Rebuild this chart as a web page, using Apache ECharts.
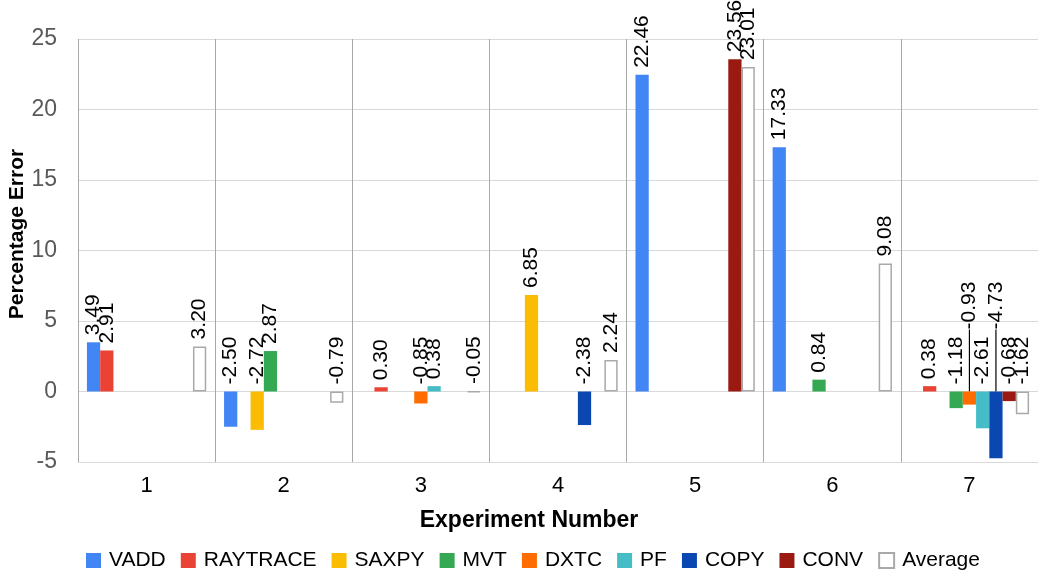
<!DOCTYPE html>
<html>
<head>
<meta charset="utf-8">
<script src="https://cdn.jsdelivr.net/npm/echarts@6/dist/echarts.min.js"></script>
<style>
html, body { margin: 0; padding: 0; background: #fff; }
#chart { width: 1038px; height: 578px; }
</style>
</head>
<body>
<div id="chart"></div>
<script>
const categories = ['1', '2', '3', '4', '5', '6', '7'];
const seriesNames = ['VADD', 'RAYTRACE', 'SAXPY', 'MVT', 'DXTC', 'PF', 'COPY', 'CONV', 'Average'];
const VADD     = [3.49, -2.50, null, null, 22.46, 17.33, null];
const RAYTRACE = [2.91, null, 0.30, null, null, null, 0.38];
const SAXPY    = [null, -2.72, null, 6.85, null, null, null];
const MVT      = [null, 2.87, null, null, null, 0.84, -1.18];
const DXTC     = [null, null, -0.85, null, null, null, -0.93];
const PF       = [null, null, 0.38, null, null, null, -2.61];
const COPY     = [null, null, null, -2.38, null, null, -4.73];
const CONV     = [null, null, null, null, 23.56, null, -0.68];
const Average  = [3.20, -0.79, -0.05, 2.24, 23.01, 9.08, -1.62];
const yTicks = { min: -5, max: 25, interval: 5 };

const seriesValues = [VADD, RAYTRACE, SAXPY, MVT, DXTC, PF, COPY, CONV, Average];
const colors = ['#4285f4', '#ea4335', '#fbbc04', '#34a853', '#ff6d01', '#46bdc6', '#0b47b0', '#9a1a12', '#ffffff'];
// labels lifted with leader lines (series name, category index)
const leaderLabels = [['DXTC', 6], ['COPY', 6]];

const chart = echarts.init(document.getElementById('chart'), null, { renderer: 'canvas' });
const baseFont = "'Liberation Sans', Arial, sans-serif";

const series = seriesNames.map((name, si) => {
  const isAvg = name === 'Average';
  return {
    name: name,
    type: 'bar',
    barGap: '0%',
    barCategoryGap: '13%',
    itemStyle: isAvg ? { color: '#ffffff', borderColor: '#a9a9a9', borderWidth: 1.5 } : { color: colors[si] },
    label: {
      show: true,
      position: 'top',
      rotate: 90,
      align: 'left',
      verticalAlign: 'middle',
      distance: 7,
      fontFamily: baseFont,
      fontSize: 21,
      color: '#000',
      formatter: p => (typeof p.value === 'number' ? p.value.toFixed(2) : '')
    },
    labelLayout: function (params) {
      const hit = leaderLabels.some(([n, ci]) => n === name && ci === params.dataIndex);
      return hit ? { dx: 55 } : {};
    },
    data: seriesValues[si].map((v, ci) => {
      if (v === null) return '-';
      const hit = leaderLabels.some(([n, c]) => n === name && c === ci);
      if (hit) {
        return { value: v, labelLine: { show: true, lineStyle: { color: '#000', width: 1.2 } } };
      }
      return v;
    })
  };
});

chart.setOption({
  animation: false,
  backgroundColor: '#ffffff',
  grid: { left: 78, right: -5, top: 39, bottom: 116 },
  legend: {
    data: seriesNames,
    left: 81,
    top: 545,
    itemWidth: 15,
    itemHeight: 15,
    itemGap: 15,
    icon: 'rect',
    textStyle: { fontFamily: baseFont, fontSize: 21, color: '#000', padding: [0, 0, 0, 3] }
  },
  xAxis: {
    type: 'category',
    data: categories,
    position: 'bottom',
    axisLine: { show: false, onZero: false },
    axisTick: { show: false },
    splitLine: { show: true, lineStyle: { color: '#a8a8a8', width: 1 } },
    axisLabel: { fontFamily: baseFont, fontSize: 22, color: '#000', margin: 13 }
  },
  yAxis: {
    type: 'value',
    min: yTicks.min,
    max: yTicks.max,
    interval: yTicks.interval,
    axisLine: { show: false },
    axisTick: { show: false },
    splitLine: { lineStyle: { color: '#d9d9d9', width: 1.2 } },
    axisLabel: { fontFamily: baseFont, fontSize: 23, color: '#595959', margin: 21 }
  },
  graphic: [
    {
      type: 'text',
      x: 17, y: 234,
      rotation: Math.PI / 2,
      style: {
        text: 'Percentage Error',
        fontFamily: baseFont, fontWeight: 'bold', fontSize: 21, fill: '#000',
        align: 'center', verticalAlign: 'middle'
      }
    },
    {
      type: 'text',
      x: 529, y: 521,
      style: {
        text: 'Experiment Number',
        fontFamily: baseFont, fontWeight: 'bold', fontSize: 23, fill: '#000',
        align: 'center', verticalAlign: 'middle'
      }
    }
  ],
  series: series
});
</script>
</body>
</html>
